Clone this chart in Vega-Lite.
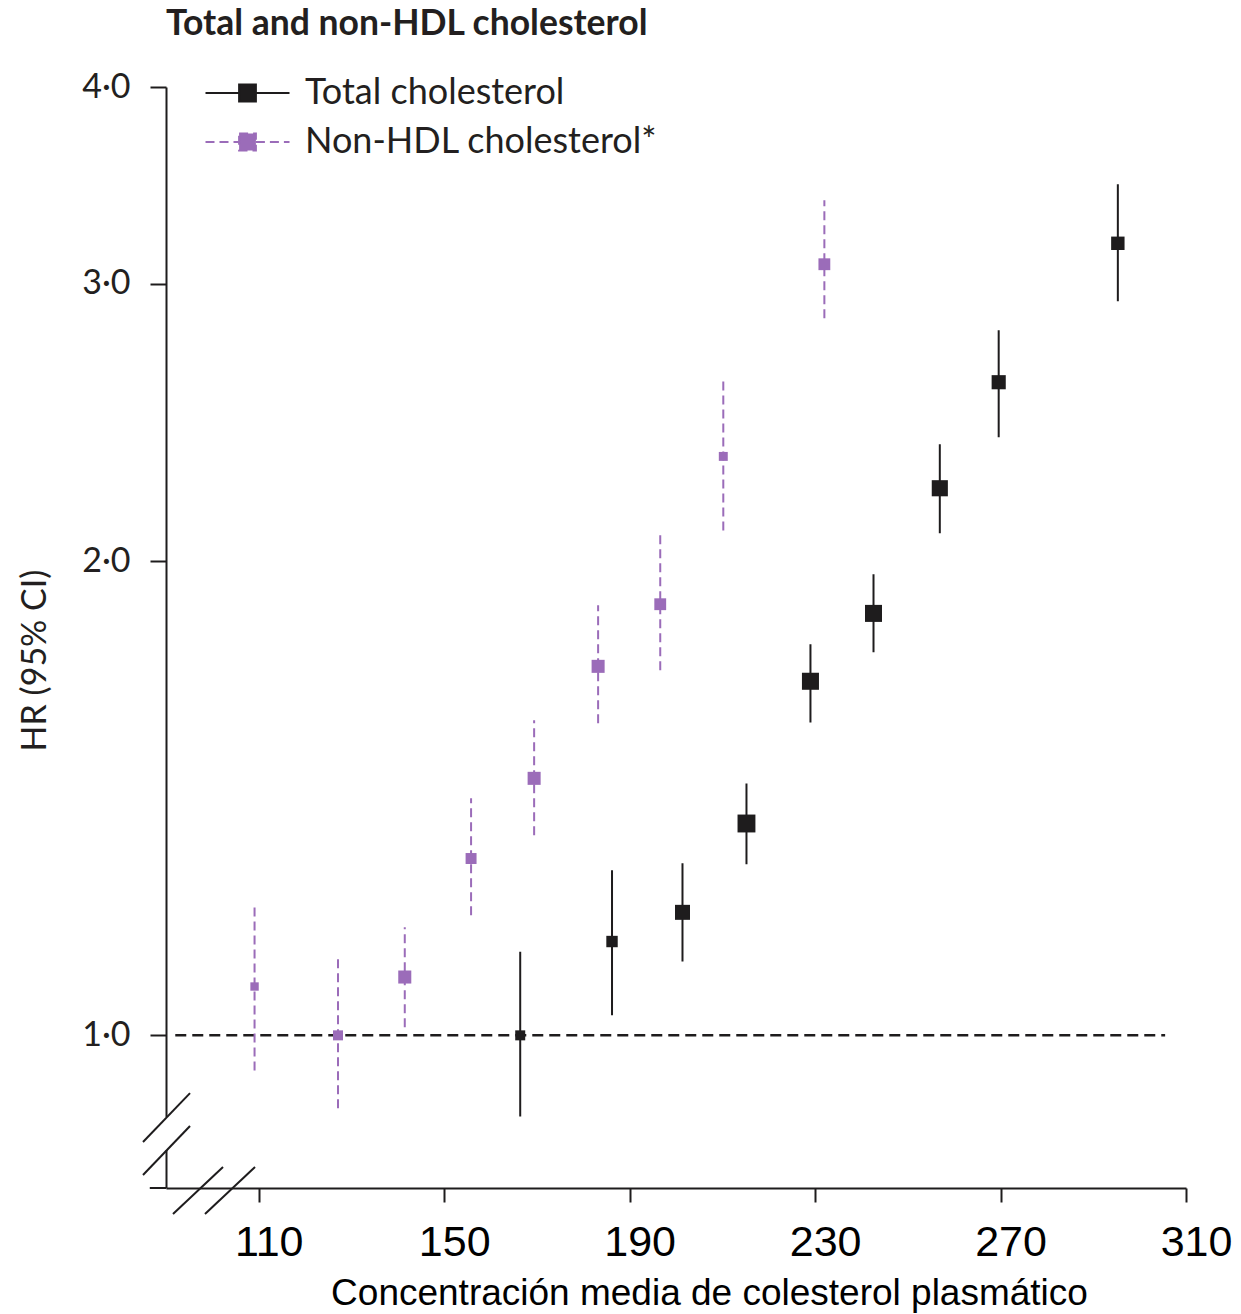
{
  "$schema": "https://vega.github.io/schema/vega-lite/v6.json",
  "width": 1020,
  "height": 1101,
  "autosize": {"type": "none"},
  "padding": {"left": 166, "top": 87, "right": 55, "bottom": 126},
  "background": "white",
  "title": {"text": "Total and non-HDL cholesterol", "anchor": "start", "frame": "group", "font": "Lato", "fontWeight": "bold", "fontSize": 35.5, "color": "#231f20", "baseline": "alphabetic", "offset": 0},
  "config": {"view": {"stroke": null}},
  "datasets": {
    "points": [
      {"s": "Total cholesterol", "conc": 166.4, "hr": 1.0, "lo": 0.888, "hi": 1.13, "w": 1.0},
      {"s": "Total cholesterol", "conc": 186.2, "hr": 1.147, "lo": 1.03, "hi": 1.273, "w": 1.3},
      {"s": "Total cholesterol", "conc": 201.4, "hr": 1.197, "lo": 1.114, "hi": 1.286, "w": 2.25},
      {"s": "Total cholesterol", "conc": 215.2, "hr": 1.363, "lo": 1.284, "hi": 1.445, "w": 3.2},
      {"s": "Total cholesterol", "conc": 229.0, "hr": 1.678, "lo": 1.58, "hi": 1.771, "w": 2.9},
      {"s": "Total cholesterol", "conc": 242.6, "hr": 1.853, "lo": 1.751, "hi": 1.962, "w": 2.9},
      {"s": "Total cholesterol", "conc": 256.9, "hr": 2.225, "lo": 2.083, "hi": 2.373, "w": 2.6},
      {"s": "Total cholesterol", "conc": 269.6, "hr": 2.598, "lo": 2.397, "hi": 2.803, "w": 2.0},
      {"s": "Total cholesterol", "conc": 295.3, "hr": 3.183, "lo": 2.924, "hi": 3.47, "w": 1.8},
      {"s": "Non-HDL cholesterol*", "conc": 109.1, "hr": 1.074, "lo": 0.95, "hi": 1.213, "w": 0.7},
      {"s": "Non-HDL cholesterol*", "conc": 127.1, "hr": 1.0, "lo": 0.899, "hi": 1.126, "w": 1.0},
      {"s": "Non-HDL cholesterol*", "conc": 141.5, "hr": 1.089, "lo": 1.012, "hi": 1.171, "w": 1.7},
      {"s": "Non-HDL cholesterol*", "conc": 155.8, "hr": 1.295, "lo": 1.192, "hi": 1.414, "w": 1.2},
      {"s": "Non-HDL cholesterol*", "conc": 169.4, "hr": 1.456, "lo": 1.34, "hi": 1.585, "w": 1.7},
      {"s": "Non-HDL cholesterol*", "conc": 183.2, "hr": 1.715, "lo": 1.578, "hi": 1.875, "w": 1.7},
      {"s": "Non-HDL cholesterol*", "conc": 196.6, "hr": 1.878, "lo": 1.705, "hi": 2.077, "w": 1.4},
      {"s": "Non-HDL cholesterol*", "conc": 210.2, "hr": 2.331, "lo": 2.092, "hi": 2.606, "w": 0.8},
      {"s": "Non-HDL cholesterol*", "conc": 232.0, "hr": 3.087, "lo": 2.853, "hi": 3.39, "w": 1.4}
    ],
    "gap": [{"x": 90, "y1": 0.8457, "y2": 0.8875}],
    "deco": [
      {"x1": 85.04, "y1": 0.8557, "x2": 95.18, "y2": 0.919},
      {"x1": 85.04, "y1": 0.8153, "x2": 95.18, "y2": 0.8759},
      {"x1": 91.51, "y1": 0.7702, "x2": 102.3, "y2": 0.825},
      {"x1": 98.41, "y1": 0.7702, "x2": 109.2, "y2": 0.825},
      {"x1": 86.5, "y1": 0.8, "x2": 90, "y2": 0.8}
    ],
    "ref": [{"hr": 1, "from": 92, "to": 305.5}]
  },
  "layer": [
    {
      "data": {"name": "gap"},
      "mark": {"type": "rule", "color": "white", "strokeWidth": 6},
      "encoding": {
        "x": {"field": "x", "type": "quantitative", "scale": {"domain": [90, 310], "nice": false, "zero": false},
          "axis": {"values": [110, 150, 190, 230, 270, 310], "title": "Concentración media de colesterol plasmático", "grid": false,
            "domainColor": "#1e1c1d", "domainWidth": 2, "tickColor": "#1e1c1d", "tickWidth": 2, "tickSize": 14,
            "labelFont": "Liberation Sans", "labelFontSize": 43, "labelColor": "black", "labelPadding": 19, "labelOffset": 10, "labelFlush": false,
            "titleFont": "Liberation Sans", "titleFontSize": 37, "titleFontWeight": "normal", "titleColor": "black",
            "titleX": 543, "titleY": 105, "titleBaseline": "middle", "titleAnchor": "middle"}},
        "y": {"field": "y1", "type": "quantitative", "scale": {"type": "log", "domain": [0.8, 4], "nice": false, "zero": false},
          "axis": {"values": [1, 2, 3, 4], "labelExpr": "replace(format(datum.value, '.1f'), '.', '·')", "title": "HR (95% CI)", "grid": false,
            "domainColor": "#1e1c1d", "domainWidth": 2, "tickColor": "#1e1c1d", "tickWidth": 2, "tickSize": 16,
            "labelFont": "Lato", "labelFontSize": 34, "labelColor": "#231f20", "labelPadding": 20, "labelDy": 4,
            "titleFont": "Lato", "titleFontSize": 34, "titleFontWeight": "normal", "titleColor": "#231f20",
            "titleAngle": -90, "titleX": -131, "titleY": 573, "titleAlign": "center", "titleBaseline": "middle"}},
        "y2": {"field": "y2"}
      }
    },
    {
      "data": {"name": "deco"},
      "mark": {"type": "rule", "color": "#1e1c1d", "strokeWidth": 2},
      "encoding": {
        "x": {"field": "x1", "type": "quantitative", "scale": {"domain": [90, 310], "nice": false, "zero": false}},
        "x2": {"field": "x2"},
        "y": {"field": "y1", "type": "quantitative", "scale": {"type": "log", "domain": [0.8, 4], "nice": false, "zero": false}},
        "y2": {"field": "y2"}
      }
    },
    {
      "data": {"name": "ref"},
      "mark": {"type": "rule", "color": "#1e1c1d", "strokeWidth": 2.5, "strokeDash": [11, 6]},
      "encoding": {
        "x": {"field": "from", "type": "quantitative", "scale": {"domain": [90, 310], "nice": false, "zero": false}},
        "x2": {"field": "to"},
        "y": {"field": "hr", "type": "quantitative", "scale": {"type": "log", "domain": [0.8, 4], "nice": false, "zero": false}}
      }
    },
    {
      "data": {"name": "points"},
      "mark": {"type": "rule", "strokeWidth": 2},
      "encoding": {
        "x": {"field": "conc", "type": "quantitative", "scale": {"domain": [90, 310], "nice": false, "zero": false}},
        "y": {"field": "lo", "type": "quantitative", "scale": {"type": "log", "domain": [0.8, 4], "nice": false, "zero": false}},
        "y2": {"field": "hi"},
        "color": {"field": "s", "type": "nominal", "scale": {"domain": ["Total cholesterol", "Non-HDL cholesterol*"], "range": ["#1e1c1d", "#9b6cb9"]},
          "legend": {"title": null, "orient": "none", "legendX": 63.5, "legendY": -12, "padding": 0,
            "symbolType": "M-4,0H-0.8M0.8,0H4M-0.8,-0.8H0.8V0.8H-0.8Z", "symbolSize": 441, "symbolStrokeWidth": 2, "symbolOpacity": 1,
            "labelFont": "Lato", "labelFontSize": 36, "labelColor": "#231f20", "labelOffset": 39.5, "rowPadding": 13, "labelLimit": 500,
            "encode": {"symbols": {"update": {
              "fill": {"scale": "color", "field": "value"},
              "stroke": {"scale": "color", "field": "value"},
              "strokeDash": {"signal": "datum.value == 'Non-HDL cholesterol*' ? [7, 5] : [1, 0]"}}}}}},
        "strokeDash": {"field": "s", "type": "nominal", "scale": {"domain": ["Total cholesterol", "Non-HDL cholesterol*"], "range": [[1, 0], [9, 5]]}, "legend": null}
      }
    },
    {
      "data": {"name": "points"},
      "mark": {"type": "point", "shape": "square", "filled": true, "opacity": 1},
      "encoding": {
        "x": {"field": "conc", "type": "quantitative", "scale": {"domain": [90, 310], "nice": false, "zero": false}},
        "y": {"field": "hr", "type": "quantitative", "scale": {"type": "log", "domain": [0.8, 4], "nice": false, "zero": false}},
        "size": {"field": "w", "type": "quantitative", "scale": {"domain": [0, 4], "range": [0, 400], "zero": true}, "legend": null},
        "color": {"field": "s", "type": "nominal", "scale": {"domain": ["Total cholesterol", "Non-HDL cholesterol*"], "range": ["#1e1c1d", "#9b6cb9"]},
          "legend": {"title": null, "orient": "none", "legendX": 63.5, "legendY": -12, "padding": 0,
            "symbolType": "M-4,0H-0.8M0.8,0H4M-0.8,-0.8H0.8V0.8H-0.8Z", "symbolSize": 441, "symbolStrokeWidth": 2, "symbolOpacity": 1,
            "labelFont": "Lato", "labelFontSize": 36, "labelColor": "#231f20", "labelOffset": 39.5, "rowPadding": 13, "labelLimit": 500,
            "encode": {"symbols": {"update": {
              "fill": {"scale": "color", "field": "value"},
              "stroke": {"scale": "color", "field": "value"},
              "strokeDash": {"signal": "datum.value == 'Non-HDL cholesterol*' ? [7, 5] : [1, 0]"}}}}}}
      }
    }
  ]
}
